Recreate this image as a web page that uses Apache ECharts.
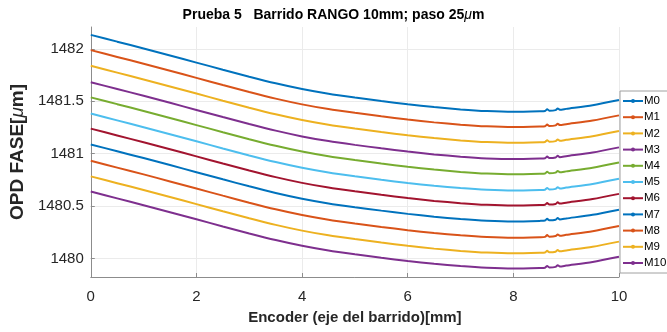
<!DOCTYPE html>
<html>
<head>
<meta charset="utf-8">
<script src="https://cdn.jsdelivr.net/npm/echarts@6/dist/echarts.min.js"></script>
<style>
html,body{margin:0;padding:0;background:#fff;}
#c{width:667px;height:332px;}
</style>
</head>
<body>
<div id="c"></div>
<script>
const xs = [0,0.5,1,1.5,2,2.5,3,3.5,4,4.5,5,5.5,6,6.5,7,7.5,8,8.5,8.6,8.64,8.68,8.8,8.84,8.88,9,9.5,10];
const names = ['M0','M1','M2','M3','M4','M5','M6','M7','M8','M9','M10'];
const M0 = [1482.135,1482.070,1482.005,1481.938,1481.870,1481.802,1481.735,1481.672,1481.617,1481.572,1481.536,1481.503,1481.472,1481.445,1481.423,1481.407,1481.400,1481.405,1481.408,1481.425,1481.410,1481.416,1481.432,1481.419,1481.428,1481.463,1481.512];
const M1 = [1481.989,1481.924,1481.859,1481.792,1481.724,1481.656,1481.589,1481.526,1481.471,1481.426,1481.390,1481.357,1481.326,1481.299,1481.277,1481.261,1481.254,1481.259,1481.262,1481.279,1481.264,1481.270,1481.286,1481.273,1481.282,1481.317,1481.366];
const M2 = [1481.839,1481.774,1481.709,1481.642,1481.574,1481.506,1481.439,1481.376,1481.321,1481.276,1481.240,1481.207,1481.176,1481.149,1481.127,1481.111,1481.104,1481.109,1481.112,1481.129,1481.114,1481.120,1481.136,1481.123,1481.132,1481.167,1481.216];
const M3 = [1481.683,1481.618,1481.553,1481.486,1481.418,1481.350,1481.283,1481.220,1481.165,1481.120,1481.084,1481.051,1481.020,1480.993,1480.971,1480.955,1480.948,1480.953,1480.956,1480.973,1480.958,1480.964,1480.980,1480.967,1480.976,1481.011,1481.060];
const M4 = [1481.538,1481.473,1481.408,1481.341,1481.273,1481.205,1481.138,1481.075,1481.020,1480.975,1480.939,1480.906,1480.875,1480.848,1480.826,1480.810,1480.803,1480.808,1480.811,1480.828,1480.813,1480.819,1480.835,1480.822,1480.831,1480.866,1480.915];
const M5 = [1481.383,1481.318,1481.253,1481.186,1481.118,1481.050,1480.983,1480.920,1480.865,1480.820,1480.784,1480.751,1480.720,1480.693,1480.671,1480.655,1480.648,1480.653,1480.656,1480.673,1480.658,1480.664,1480.680,1480.667,1480.676,1480.711,1480.760];
const M6 = [1481.239,1481.174,1481.109,1481.042,1480.974,1480.906,1480.839,1480.776,1480.721,1480.676,1480.640,1480.607,1480.576,1480.549,1480.527,1480.511,1480.504,1480.509,1480.512,1480.529,1480.514,1480.520,1480.536,1480.523,1480.532,1480.567,1480.616];
const M7 = [1481.088,1481.023,1480.958,1480.891,1480.823,1480.755,1480.688,1480.625,1480.570,1480.525,1480.489,1480.456,1480.425,1480.398,1480.376,1480.360,1480.353,1480.358,1480.361,1480.378,1480.363,1480.369,1480.385,1480.372,1480.381,1480.416,1480.465];
const M8 = [1480.932,1480.867,1480.802,1480.735,1480.667,1480.599,1480.532,1480.469,1480.414,1480.369,1480.333,1480.300,1480.269,1480.242,1480.220,1480.204,1480.197,1480.202,1480.205,1480.222,1480.207,1480.213,1480.229,1480.216,1480.225,1480.260,1480.309];
const M9 = [1480.783,1480.718,1480.653,1480.586,1480.518,1480.450,1480.383,1480.320,1480.265,1480.220,1480.184,1480.151,1480.120,1480.093,1480.071,1480.055,1480.048,1480.053,1480.056,1480.073,1480.058,1480.064,1480.080,1480.067,1480.076,1480.111,1480.160];
const M10 = [1480.638,1480.573,1480.508,1480.441,1480.373,1480.305,1480.238,1480.175,1480.120,1480.075,1480.039,1480.006,1479.975,1479.948,1479.926,1479.910,1479.903,1479.908,1479.911,1479.928,1479.913,1479.919,1479.935,1479.922,1479.931,1479.966,1480.015];
const yTicks = [1480, 1480.5, 1481, 1481.5, 1482];
const xTicks = [0, 2, 4, 6, 8, 10];
const colors = ['#0072BD','#D95319','#EDB120','#7E2F8E','#77AC30','#4DBEEE','#A2142F','#0072BD','#D95319','#EDB120','#7E2F8E'];

const allSeries = [M0,M1,M2,M3,M4,M5,M6,M7,M8,M9,M10];
const FONT = '"Liberation Sans", Arial, sans-serif';
const chart = echarts.init(document.getElementById('c'), null, {renderer:'canvas'});
chart.setOption({
  backgroundColor: '#fff',
  animation: false,
  color: colors,
  title: {
    text: '{b|Prueba 5   Barrido RANGO 10mm; paso 25}{i|μ}{b|m}',
    left: 'center',
    top: 3,
    textStyle: {
      rich: {
        b: {fontFamily: FONT, fontSize: 14, fontWeight: 'bold', color: '#000'},
        i: {fontFamily: FONT, fontSize: 14, fontStyle: 'italic', fontWeight: 'normal', color: '#000'}
      }
    }
  },
  legend: {
    orient: 'vertical',
    left: 620,
    top: 91,
    data: names,
    itemWidth: 20,
    itemHeight: 5,
    itemGap: 4.2,
    padding: [4, 3, 4, 2],
    borderColor: '#a0a0a0',
    borderWidth: 1,
    backgroundColor: '#fff',
    textStyle: {fontFamily: FONT, fontSize: 11.5, color: '#000', padding: [0,0,0,-4]}
  },
  grid: {left: 90, right: 48, top: 27, bottom: 55, containLabel: false},
  xAxis: {
    type: 'value',
    min: 0, max: 10, interval: 2,
    name: 'Encoder (eje del barrido)[mm]',
    nameLocation: 'middle',
    nameGap: 33,
    nameTextStyle: {fontFamily: FONT, fontSize: 15, fontWeight: 'bold', color: '#262626'},
    axisLine: {show: true, lineStyle: {color: '#8c8c8c', width: 1}},
    axisTick: {show: true, inside: true, length: 4, lineStyle: {color: '#8c8c8c'}},
    axisLabel: {fontFamily: FONT, fontSize: 15, color: '#262626', margin: 12, formatter: v => String(v)},
    splitLine: {show: true, lineStyle: {color: '#ebebeb', width: 1}}
  },
  yAxis: {
    type: 'value',
    min: 1479.822, max: 1482.21,
    name: '{b|OPD FASE[}{i|μ}{b|m]}',
    nameLocation: 'middle',
    nameGap: 56,
    nameRotate: 90,
    nameTextStyle: {
      rich: {
        b: {fontFamily: FONT, fontSize: 19, fontWeight: 'bold', color: '#262626'},
        i: {fontFamily: FONT, fontSize: 19, fontStyle: 'italic', fontWeight: 'normal', color: '#262626'}
      }
    },
    axisLine: {show: true, lineStyle: {color: '#8c8c8c', width: 1}},
    axisTick: {show: true, inside: true, length: 4, customValues: yTicks, lineStyle: {color: '#8c8c8c'}},
    axisLabel: {fontFamily: FONT, fontSize: 15, color: '#262626', margin: 7, customValues: yTicks, formatter: v => String(v)},
    splitLine: {show: true, lineStyle: {color: '#ebebeb', width: 1}}
  },
  series: allSeries.map((arr, i) => ({
    name: names[i],
    type: 'line',
    data: xs.map((x, j) => [x, arr[j]]),
    showSymbol: false,
    symbol: 'circle',
    symbolSize: 3,
    smooth: 0.25,
    lineStyle: {width: 2, color: colors[i]},
    itemStyle: {color: colors[i]},
    z: 10 - i
  }))
});
</script>
</body>
</html>
